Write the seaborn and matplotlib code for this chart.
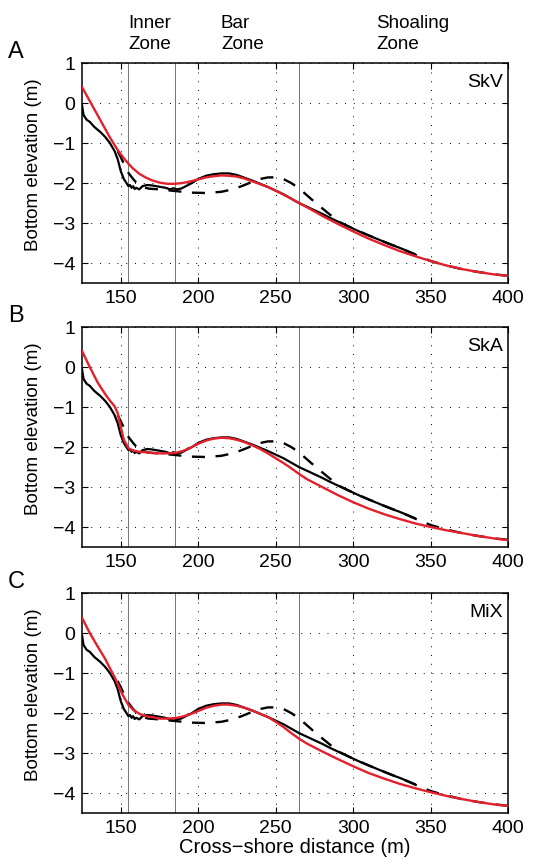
import matplotlib
matplotlib.use("Agg")
import matplotlib.pyplot as plt
import seaborn as sns

# ======================
# DATA
# ======================
# measured final profile (black solid)
x_meas = [125, 126, 128, 130, 133, 137, 140, 143, 146, 148, 150, 152, 154, 155, 156, 157,
          158, 159, 160, 162, 164, 167, 170, 173, 176, 179, 182, 184, 186, 189, 192, 196,
          200, 205, 210, 215, 220, 225, 230, 235, 240, 245, 250, 255, 260, 265, 270, 275,
          280, 285, 290, 295, 300, 305, 310, 315, 320, 325, 330, 335, 340]
z_meas = [-0.05, -0.3, -0.42, -0.47, -0.6, -0.73, -0.85, -1.0, -1.2, -1.4, -1.7, -1.9, -2.02, -2.08, -2.05, -2.12,
          -2.08, -2.15, -2.12, -2.16, -2.08, -2.05, -2.06, -2.08, -2.1, -2.12, -2.16, -2.13, -2.16, -2.14, -2.08, -2.0,
          -1.9, -1.82, -1.78, -1.76, -1.76, -1.8, -1.87, -1.94, -2.02, -2.1, -2.19, -2.28, -2.39, -2.5, -2.59, -2.68,
          -2.77, -2.87, -2.96, -3.05, -3.14, -3.23, -3.31, -3.39, -3.47, -3.55, -3.62, -3.7, -3.78]

# initial profile (black dashed)
x_init = [148, 150, 152, 155, 158, 161, 164, 168, 175, 185, 195, 205, 215, 222, 228, 235,
          240, 245, 250, 255, 260, 265, 270, 275, 280, 286, 290, 295, 300, 310, 320, 330,
          340, 350, 360, 370, 380, 390, 400]
z_init = [-1.2, -1.35, -1.52, -1.75, -1.9, -2.03, -2.1, -2.14, -2.16, -2.2, -2.24, -2.25, -2.22, -2.16, -2.08, -1.97,
          -1.9, -1.86, -1.86, -1.9, -2.0, -2.13, -2.3, -2.47, -2.63, -2.82, -2.95, -3.05, -3.14, -3.31, -3.47, -3.62,
          -3.79, -3.95, -4.06, -4.15, -4.22, -4.28, -4.32]

# model profiles (red), one per run
x_model = [125, 130, 135, 140, 143, 146, 148, 150, 152, 155, 158, 162, 166, 170, 175, 180,
           185, 190, 195, 200, 205, 210, 215, 220, 225, 230, 235, 240, 245, 250, 255, 260,
           265, 270, 280, 290, 300, 310, 320, 330, 340, 350, 360, 370, 380, 390, 400]
z_skv = [0.4, 0.05, -0.3, -0.65, -0.86, -1.05, -1.17, -1.28, -1.38, -1.52, -1.64, -1.77, -1.86, -1.93, -1.99, -2.02,
         -2.02, -2.0, -1.96, -1.91, -1.86, -1.83, -1.81, -1.82, -1.84, -1.89, -1.96, -2.03, -2.1, -2.19, -2.29, -2.39,
         -2.5, -2.6, -2.82, -3.02, -3.21, -3.39, -3.55, -3.7, -3.83, -3.95, -4.06, -4.15, -4.22, -4.28, -4.32]
z_ska = [0.4, 0.0, -0.38, -0.68, -0.84, -0.98, -1.15, -1.5, -1.82, -2.03, -2.09, -2.12, -2.13, -2.15, -2.16, -2.16,
         -2.15, -2.1, -2.02, -1.92, -1.84, -1.79, -1.77, -1.78, -1.82, -1.88, -1.96, -2.05, -2.16, -2.28, -2.4, -2.53,
         -2.67, -2.8, -3.0, -3.2, -3.38, -3.54, -3.68, -3.8, -3.91, -4.0, -4.08, -4.15, -4.22, -4.28, -4.33]
z_mix = [0.38, 0.0, -0.33, -0.65, -0.88, -1.1, -1.27, -1.45, -1.6, -1.8, -1.92, -2.02, -2.08, -2.1, -2.14, -2.14,
         -2.13, -2.09, -2.03, -1.95, -1.87, -1.82, -1.79, -1.79, -1.82, -1.87, -1.94, -2.02, -2.1, -2.22, -2.35, -2.5,
         -2.64, -2.76, -2.96, -3.15, -3.33, -3.5, -3.64, -3.77, -3.88, -3.98, -4.07, -4.15, -4.22, -4.28, -4.32]

panels = ["A", "B", "C"]
runs = ["SkV", "SkA", "MiX"]
models = [z_skv, z_ska, z_mix]
zone_edges = [155, 185, 265]
zone_names = ["Inner\nZone", "Bar\nZone", "Shoaling\nZone"]
zone_text_x = [128, 221, 376]  # pixel positions of the labels
x_ticks = [150, 200, 250, 300, 350, 400]
y_ticks = [-4, -3, -2, -1, 0, 1]

# ======================
# STYLE
# ======================
sns.set_style("ticks")
plt.rcParams["font.family"] = ["Liberation Sans", "DejaVu Sans"]
plt.rcParams["font.size"] = 13
for key in ["text.color", "axes.labelcolor", "xtick.color", "ytick.color"]:
    plt.rcParams[key] = "k"

W, H = 541, 863
fig = plt.figure(figsize=(W / 100, H / 100), dpi=100)

tops = [63, 327, 593]
ax_h = 220
ax_l, ax_w = 82, 426
red = "#e3202c"

for i, (panel, run, z_mod) in enumerate(zip(panels, runs, models)):
    ax = fig.add_axes([ax_l / W, 1 - (tops[i] + ax_h) / H, ax_w / W, ax_h / H])

    ax.grid(True, color="k", linestyle=(0, (1, 8)), linewidth=0.7)
    for xe in zone_edges:
        ax.axvline(xe, color="0.45", linewidth=0.7, zorder=1)

    sns.lineplot(x=x_init, y=z_init, ax=ax, color="k", linewidth=1.7, sort=False, zorder=2)
    ax.lines[-1].set_dashes((5.5, 4.5))
    sns.lineplot(x=x_meas, y=z_meas, ax=ax, color="k", linewidth=1.6, sort=False, zorder=3)
    sns.lineplot(x=x_model, y=z_mod, ax=ax, color=red, linewidth=1.7, sort=False, zorder=4)

    ax.set_xlim(125, 400)
    ax.set_ylim(-4.5, 1)
    ax.set_xticks(x_ticks)
    ax.set_yticks(y_ticks)
    ax.tick_params(direction="in", length=4, width=0.8, top=True, right=True,
                   labelsize=14, pad=5)
    for s in ax.spines.values():
        s.set_linewidth(1.1)
        s.set_color("k")

    ax.set_ylabel("Bottom elevation (m)", fontsize=13.5)
    ax.yaxis.set_label_coords(-0.095, 0.54)
    if i == 2:
        ax.set_xlabel("Cross\u2212shore distance (m)", fontsize=14.5, labelpad=1)
    else:
        ax.set_xlabel("")

    ax.text(0.988, 0.91, run, transform=ax.transAxes, ha="right", va="center", fontsize=14)
    fig.text(8 / W, 1 - (tops[i] - 11) / H, panel, ha="left", va="center", fontsize=17)

for name, xp in zip(zone_names, zone_text_x):
    fig.text(xp / W, 1 - 34 / H, name, ha="left", va="center", fontsize=13.5, linespacing=1.25)

fig.savefig("out.png", dpi=100)
